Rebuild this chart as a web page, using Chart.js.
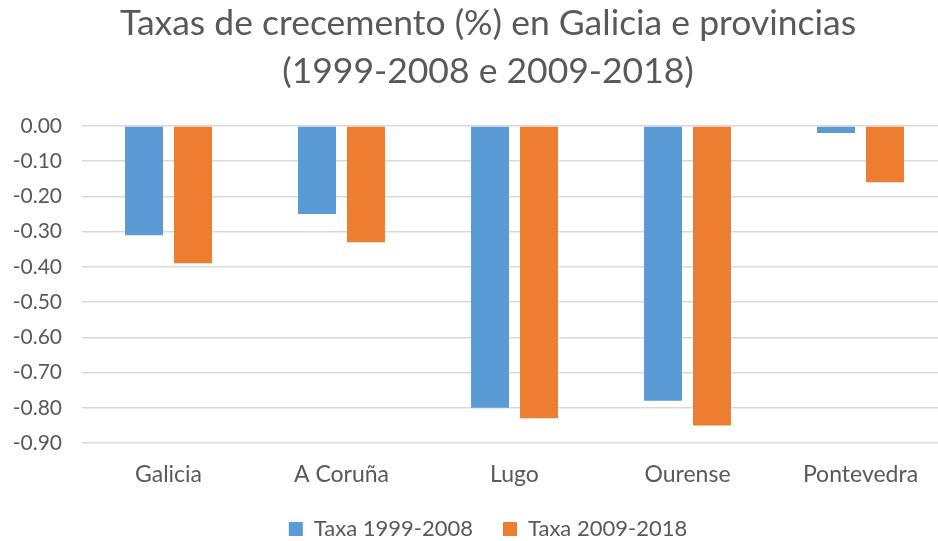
<!DOCTYPE html>
<html>
<head>
<meta charset="utf-8">
<script src="https://cdn.jsdelivr.net/npm/chart.js@4.4.1/dist/chart.umd.min.js"></script>
<style>
html,body{margin:0;padding:0;background:#fff;overflow:hidden;}
#wrap{width:938px;height:541px;overflow:hidden;}
canvas{display:block;}
</style>
</head>
<body>
<div id="wrap"><canvas id="c" width="972" height="550"></canvas></div>
<script>
const categories = ["Galicia", "A Coruña", "Lugo", "Ourense", "Pontevedra"];
const seriesNames = ["Taxa 1999-2008", "Taxa 2009-2018"];
const taxa1999_2008 = [-0.31, -0.25, -0.80, -0.78, -0.02];
const taxa2009_2018 = [-0.39, -0.33, -0.83, -0.85, -0.16];
const titleLines = ["Taxas de crecemento (%) en Galicia e provincias", "(1999-2008 e 2009-2018)"];

const FONT = "Lato, 'Open Sans', sans-serif";
const GRAY = "#595959";

new Chart(document.getElementById("c"), {
  type: "bar",
  data: {
    labels: categories,
    datasets: [
      { label: seriesNames[0], data: taxa1999_2008, backgroundColor: "#5B9BD5", barPercentage: 0.776, categoryPercentage: 0.566 },
      { label: seriesNames[1], data: taxa2009_2018, backgroundColor: "#ED7D31", barPercentage: 0.776, categoryPercentage: 0.566 }
    ]
  },
  options: {
    responsive: false,
    animation: false,
    layout: { padding: { left: 6, right: 2, top: 0, bottom: 0 } },
    plugins: {
      title: {
        display: true,
        text: titleLines,
        color: GRAY,
        font: { family: FONT, size: 35.5, weight: "normal", lineHeight: 1.352 },
        padding: { top: 0, bottom: 30 }
      },
      legend: {
        position: "bottom",
        labels: {
          color: GRAY,
          font: { family: FONT, size: 22 },
          boxWidth: 14, boxHeight: 14,
          padding: 30
        }
      },
      tooltip: { enabled: false }
    },
    scales: {
      x: {
        grid: { display: false, drawTicks: false },
        border: { display: false },
        ticks: { color: GRAY, font: { family: FONT, size: 23 }, padding: 18 },
        afterFit: s => { s.height = 45; }
      },
      y: {
        min: -0.9, max: 0,
        grid: { color: "#d9d9d9", lineWidth: 1.5, drawTicks: false },
        border: { display: false },
        ticks: {
          stepSize: 0.1, color: GRAY, font: { family: FONT, size: 21 }, padding: 20,
          callback: v => (Math.abs(v) < 1e-9 ? 0 : v).toFixed(2)
        },
        afterFit: s => { s.width = 76; }
      },
      yRight: {
        type: "linear",
        position: "right",
        display: true,
        grid: { display: false, drawTicks: false },
        border: { display: false },
        ticks: { display: false },
        afterFit: s => { s.width = 23; }
      }
    }
  }
});
</script>
</body>
</html>
